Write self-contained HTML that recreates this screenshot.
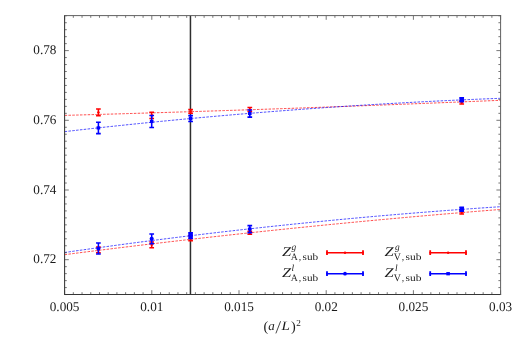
<!DOCTYPE html><html><head><meta charset="utf-8"><style>html,body{margin:0;padding:0;background:#fff}svg{display:block;will-change:transform;opacity:0.999}text{font-family:"Liberation Serif",serif;fill:#1a1a1a;text-rendering:geometricPrecision}</style></head><body>
<svg width="524" height="337" viewBox="0 0 524 337">
<rect width="524" height="337" fill="#fff"/>
<path d="M64.60,115.39 Q282.60,109.42 500.60,100.30" fill="none" stroke="#ff0000" stroke-width="1" stroke-dasharray="2.5 1.35" stroke-opacity="0.7"/>
<path d="M64.60,131.63 Q282.60,106.52 500.60,98.30" fill="none" stroke="#0000ff" stroke-width="1" stroke-dasharray="2.5 1.35" stroke-opacity="0.7"/>
<path d="M64.60,254.67 Q282.60,226.61 500.60,209.44" fill="none" stroke="#ff0000" stroke-width="1" stroke-dasharray="2.5 1.35" stroke-opacity="0.7"/>
<path d="M64.60,252.50 Q282.60,220.95 500.60,206.70" fill="none" stroke="#0000ff" stroke-width="1" stroke-dasharray="2.5 1.35" stroke-opacity="0.7"/>
<line x1="190.45" y1="15.6" x2="190.45" y2="294.4" stroke="#2e2e2e" stroke-width="1.5"/>
<path d="M64.60,294.4 v-4.2 M64.60,15.6 v4.2 M73.32,294.4 v-2.2 M73.32,15.6 v2.2 M82.04,294.4 v-2.2 M82.04,15.6 v2.2 M90.76,294.4 v-2.2 M90.76,15.6 v2.2 M99.48,294.4 v-2.2 M99.48,15.6 v2.2 M108.20,294.4 v-2.2 M108.20,15.6 v2.2 M116.92,294.4 v-2.2 M116.92,15.6 v2.2 M125.64,294.4 v-2.2 M125.64,15.6 v2.2 M134.36,294.4 v-2.2 M134.36,15.6 v2.2 M143.08,294.4 v-2.2 M143.08,15.6 v2.2 M151.80,294.4 v-4.2 M151.80,15.6 v4.2 M160.52,294.4 v-2.2 M160.52,15.6 v2.2 M169.24,294.4 v-2.2 M169.24,15.6 v2.2 M177.96,294.4 v-2.2 M177.96,15.6 v2.2 M186.68,294.4 v-2.2 M186.68,15.6 v2.2 M195.40,294.4 v-2.2 M195.40,15.6 v2.2 M204.12,294.4 v-2.2 M204.12,15.6 v2.2 M212.84,294.4 v-2.2 M212.84,15.6 v2.2 M221.56,294.4 v-2.2 M221.56,15.6 v2.2 M230.28,294.4 v-2.2 M230.28,15.6 v2.2 M239.00,294.4 v-4.2 M239.00,15.6 v4.2 M247.72,294.4 v-2.2 M247.72,15.6 v2.2 M256.44,294.4 v-2.2 M256.44,15.6 v2.2 M265.16,294.4 v-2.2 M265.16,15.6 v2.2 M273.88,294.4 v-2.2 M273.88,15.6 v2.2 M282.60,294.4 v-2.2 M282.60,15.6 v2.2 M291.32,294.4 v-2.2 M291.32,15.6 v2.2 M300.04,294.4 v-2.2 M300.04,15.6 v2.2 M308.76,294.4 v-2.2 M308.76,15.6 v2.2 M317.48,294.4 v-2.2 M317.48,15.6 v2.2 M326.20,294.4 v-4.2 M326.20,15.6 v4.2 M334.92,294.4 v-2.2 M334.92,15.6 v2.2 M343.64,294.4 v-2.2 M343.64,15.6 v2.2 M352.36,294.4 v-2.2 M352.36,15.6 v2.2 M361.08,294.4 v-2.2 M361.08,15.6 v2.2 M369.80,294.4 v-2.2 M369.80,15.6 v2.2 M378.52,294.4 v-2.2 M378.52,15.6 v2.2 M387.24,294.4 v-2.2 M387.24,15.6 v2.2 M395.96,294.4 v-2.2 M395.96,15.6 v2.2 M404.68,294.4 v-2.2 M404.68,15.6 v2.2 M413.40,294.4 v-4.2 M413.40,15.6 v4.2 M422.12,294.4 v-2.2 M422.12,15.6 v2.2 M430.84,294.4 v-2.2 M430.84,15.6 v2.2 M439.56,294.4 v-2.2 M439.56,15.6 v2.2 M448.28,294.4 v-2.2 M448.28,15.6 v2.2 M457.00,294.4 v-2.2 M457.00,15.6 v2.2 M465.72,294.4 v-2.2 M465.72,15.6 v2.2 M474.44,294.4 v-2.2 M474.44,15.6 v2.2 M483.16,294.4 v-2.2 M483.16,15.6 v2.2 M491.88,294.4 v-2.2 M491.88,15.6 v2.2 M500.60,294.4 v-4.2 M500.60,15.6 v4.2 M64.6,294.55 h2.2 M500.6,294.55 h-2.2 M64.6,287.58 h2.2 M500.6,287.58 h-2.2 M64.6,280.61 h2.2 M500.6,280.61 h-2.2 M64.6,273.64 h2.2 M500.6,273.64 h-2.2 M64.6,266.67 h2.2 M500.6,266.67 h-2.2 M64.6,259.70 h4.2 M500.6,259.70 h-4.2 M64.6,252.73 h2.2 M500.6,252.73 h-2.2 M64.6,245.76 h2.2 M500.6,245.76 h-2.2 M64.6,238.79 h2.2 M500.6,238.79 h-2.2 M64.6,231.82 h2.2 M500.6,231.82 h-2.2 M64.6,224.85 h2.2 M500.6,224.85 h-2.2 M64.6,217.88 h2.2 M500.6,217.88 h-2.2 M64.6,210.91 h2.2 M500.6,210.91 h-2.2 M64.6,203.94 h2.2 M500.6,203.94 h-2.2 M64.6,196.97 h2.2 M500.6,196.97 h-2.2 M64.6,190.00 h4.2 M500.6,190.00 h-4.2 M64.6,183.03 h2.2 M500.6,183.03 h-2.2 M64.6,176.06 h2.2 M500.6,176.06 h-2.2 M64.6,169.09 h2.2 M500.6,169.09 h-2.2 M64.6,162.12 h2.2 M500.6,162.12 h-2.2 M64.6,155.15 h2.2 M500.6,155.15 h-2.2 M64.6,148.18 h2.2 M500.6,148.18 h-2.2 M64.6,141.21 h2.2 M500.6,141.21 h-2.2 M64.6,134.24 h2.2 M500.6,134.24 h-2.2 M64.6,127.27 h2.2 M500.6,127.27 h-2.2 M64.6,120.30 h4.2 M500.6,120.30 h-4.2 M64.6,113.33 h2.2 M500.6,113.33 h-2.2 M64.6,106.36 h2.2 M500.6,106.36 h-2.2 M64.6,99.39 h2.2 M500.6,99.39 h-2.2 M64.6,92.42 h2.2 M500.6,92.42 h-2.2 M64.6,85.45 h2.2 M500.6,85.45 h-2.2 M64.6,78.48 h2.2 M500.6,78.48 h-2.2 M64.6,71.51 h2.2 M500.6,71.51 h-2.2 M64.6,64.54 h2.2 M500.6,64.54 h-2.2 M64.6,57.57 h2.2 M500.6,57.57 h-2.2 M64.6,50.60 h4.2 M500.6,50.60 h-4.2 M64.6,43.63 h2.2 M500.6,43.63 h-2.2 M64.6,36.66 h2.2 M500.6,36.66 h-2.2 M64.6,29.69 h2.2 M500.6,29.69 h-2.2 M64.6,22.72 h2.2 M500.6,22.72 h-2.2 M64.6,15.75 h2.2 M500.6,15.75 h-2.2" stroke="#3c3c3c" stroke-width="0.7" fill="none"/>
<path d="M64.6,15.1 V294.9 M64.1,294.4 H501.1" fill="none" stroke="#363636" stroke-width="1.05"/>
<path d="M64.1,15.6 H501.1 M500.6,15.1 V294.9" fill="none" stroke="#606060" stroke-width="1.0"/>
<path d="M96.05,108.90 h4.7 M96.05,115.80 h4.7 M98.40,108.90 V115.80" stroke="#ff0000" stroke-width="1.55" fill="none"/><circle cx="98.40" cy="112.35" r="1.2" fill="#ff0000"/>
<path d="M149.35,112.20 h4.7 M149.35,118.40 h4.7 M151.70,112.20 V118.40" stroke="#ff0000" stroke-width="1.55" fill="none"/><circle cx="151.70" cy="115.30" r="1.2" fill="#ff0000"/>
<path d="M188.25,109.60 h4.7 M188.25,113.30 h4.7 M190.60,109.60 V113.30" stroke="#ff0000" stroke-width="1.55" fill="none"/><circle cx="190.60" cy="111.45" r="1.2" fill="#ff0000"/>
<path d="M247.45,107.50 h4.7 M247.45,111.40 h4.7 M249.80,107.50 V111.40" stroke="#ff0000" stroke-width="1.55" fill="none"/><circle cx="249.80" cy="109.45" r="1.2" fill="#ff0000"/>
<path d="M459.35,100.80 h4.7 M459.35,103.90 h4.7 M461.70,100.80 V103.90" stroke="#ff0000" stroke-width="1.55" fill="none"/><circle cx="461.70" cy="102.35" r="1.2" fill="#ff0000"/>
<path d="M96.05,246.90 h4.7 M96.05,252.80 h4.7 M98.40,246.90 V252.80" stroke="#ff0000" stroke-width="1.55" fill="none"/><circle cx="98.40" cy="249.85" r="1.2" fill="#ff0000"/>
<path d="M149.35,241.90 h4.7 M149.35,247.80 h4.7 M151.70,241.90 V247.80" stroke="#ff0000" stroke-width="1.55" fill="none"/><circle cx="151.70" cy="244.85" r="1.2" fill="#ff0000"/>
<path d="M188.25,235.60 h4.7 M188.25,240.80 h4.7 M190.60,235.60 V240.80" stroke="#ff0000" stroke-width="1.55" fill="none"/><circle cx="190.60" cy="238.20" r="1.2" fill="#ff0000"/>
<path d="M247.45,231.30 h4.7 M247.45,234.20 h4.7 M249.80,231.30 V234.20" stroke="#ff0000" stroke-width="1.55" fill="none"/><circle cx="249.80" cy="232.75" r="1.2" fill="#ff0000"/>
<path d="M459.35,211.00 h4.7 M459.35,214.00 h4.7 M461.70,211.00 V214.00" stroke="#ff0000" stroke-width="1.55" fill="none"/><circle cx="461.70" cy="212.50" r="1.2" fill="#ff0000"/>
<path d="M96.05,122.20 h4.7 M96.05,133.60 h4.7 M98.40,122.20 V133.60" stroke="#0000ff" stroke-width="1.55" fill="none"/><rect x="96.60" y="126.30" width="3.6" height="3.2" fill="#0000ff"/>
<path d="M149.35,115.40 h4.7 M149.35,127.50 h4.7 M151.70,115.40 V127.50" stroke="#0000ff" stroke-width="1.55" fill="none"/><rect x="149.90" y="119.85" width="3.6" height="3.2" fill="#0000ff"/>
<path d="M188.25,115.60 h4.7 M188.25,121.50 h4.7 M190.60,115.60 V121.50" stroke="#0000ff" stroke-width="1.55" fill="none"/><rect x="188.80" y="116.95" width="3.6" height="3.2" fill="#0000ff"/>
<path d="M247.45,109.90 h4.7 M247.45,117.10 h4.7 M249.80,109.90 V117.10" stroke="#0000ff" stroke-width="1.55" fill="none"/><rect x="248.00" y="111.90" width="3.6" height="3.2" fill="#0000ff"/>
<path d="M459.35,97.70 h4.7 M459.35,101.70 h4.7 M461.70,97.70 V101.70" stroke="#0000ff" stroke-width="1.55" fill="none"/><rect x="459.90" y="98.10" width="3.6" height="3.2" fill="#0000ff"/>
<path d="M96.05,243.00 h4.7 M96.05,254.00 h4.7 M98.40,243.00 V254.00" stroke="#0000ff" stroke-width="1.55" fill="none"/><circle cx="98.40" cy="248.50" r="2.1" fill="#0000ff"/>
<path d="M149.35,234.00 h4.7 M149.35,243.70 h4.7 M151.70,234.00 V243.70" stroke="#0000ff" stroke-width="1.55" fill="none"/><circle cx="151.70" cy="238.85" r="2.1" fill="#0000ff"/>
<path d="M188.25,232.80 h4.7 M188.25,238.40 h4.7 M190.60,232.80 V238.40" stroke="#0000ff" stroke-width="1.55" fill="none"/><circle cx="190.60" cy="235.60" r="2.1" fill="#0000ff"/>
<path d="M247.45,225.60 h4.7 M247.45,232.60 h4.7 M249.80,225.60 V232.60" stroke="#0000ff" stroke-width="1.55" fill="none"/><circle cx="249.80" cy="229.10" r="2.1" fill="#0000ff"/>
<path d="M459.35,207.30 h4.7 M459.35,211.20 h4.7 M461.70,207.30 V211.20" stroke="#0000ff" stroke-width="1.55" fill="none"/><circle cx="461.70" cy="209.25" r="2.1" fill="#0000ff"/>
<rect x="188.40" y="232.80" width="4.4" height="5.60" fill="#0000ff"/>
<rect x="459.50" y="207.30" width="4.4" height="3.90" fill="#0000ff"/>
<rect x="459.50" y="97.70" width="4.4" height="4.00" fill="#0000ff"/>
<path d="M326.2,252.7 H363.8" stroke="#ff0000" stroke-width="1.6" fill="none"/><path d="M327.0,250.29999999999998 v4.8 M363.0,250.29999999999998 v4.8" stroke="#ff0000" stroke-width="1.8" fill="none"/><circle cx="345.0" cy="252.7" r="1.2" fill="#ff0000"/>
<path d="M326.2,273.7 H363.8" stroke="#0000ff" stroke-width="1.6" fill="none"/><path d="M327.0,271.3 v4.8 M363.0,271.3 v4.8" stroke="#0000ff" stroke-width="1.8" fill="none"/><circle cx="345.0" cy="273.7" r="1.85" fill="#0000ff"/>
<path d="M429.4,252.7 H466.8" stroke="#ff0000" stroke-width="1.6" fill="none"/><path d="M430.2,250.29999999999998 v4.8 M466.0,250.29999999999998 v4.8" stroke="#ff0000" stroke-width="1.8" fill="none"/><circle cx="448.1" cy="252.7" r="1.2" fill="#ff0000"/>
<path d="M429.4,273.7 H466.8" stroke="#0000ff" stroke-width="1.6" fill="none"/><path d="M430.2,271.3 v4.8 M466.0,271.3 v4.8" stroke="#0000ff" stroke-width="1.8" fill="none"/><rect x="446.30" y="272.05" width="3.6" height="3.3" fill="#0000ff"/>
<text x="282" y="255.55" font-size="13.4" font-style="italic" textLength="9.1" lengthAdjust="spacingAndGlyphs">Z</text><text x="291.4" y="250.25" font-size="9.4" font-style="italic">g</text><text x="290.7" y="259.6" font-size="9.8">A</text><text x="298.8" y="259.6" font-size="9.8">,</text><text x="302.6" y="259.6" font-size="9.8" textLength="15.6" lengthAdjust="spacingAndGlyphs">sub</text>
<text x="282" y="276.55" font-size="13.4" font-style="italic" textLength="9.1" lengthAdjust="spacingAndGlyphs">Z</text><text x="291.4" y="271.25" font-size="9.4" font-style="italic">l</text><text x="290.7" y="280.6" font-size="9.8">A</text><text x="298.8" y="280.6" font-size="9.8">,</text><text x="302.6" y="280.6" font-size="9.8" textLength="15.6" lengthAdjust="spacingAndGlyphs">sub</text>
<text x="384.6" y="255.55" font-size="13.4" font-style="italic" textLength="9.1" lengthAdjust="spacingAndGlyphs">Z</text><text x="394.90000000000003" y="250.25" font-size="9.4" font-style="italic">g</text><text x="393.70000000000005" y="259.6" font-size="9.8">V</text><text x="401.70000000000005" y="259.6" font-size="9.8">,</text><text x="405.6" y="259.6" font-size="9.8" textLength="15.9" lengthAdjust="spacingAndGlyphs">sub</text>
<text x="384.6" y="276.55" font-size="13.4" font-style="italic" textLength="9.1" lengthAdjust="spacingAndGlyphs">Z</text><text x="394.90000000000003" y="271.25" font-size="9.4" font-style="italic">l</text><text x="393.70000000000005" y="280.6" font-size="9.8">V</text><text x="401.70000000000005" y="280.6" font-size="9.8">,</text><text x="405.6" y="280.6" font-size="9.8" textLength="15.9" lengthAdjust="spacingAndGlyphs">sub</text>
<text x="64.60" y="311.3" font-size="13.2" text-anchor="middle">0.005</text>
<text x="151.80" y="311.3" font-size="13.2" text-anchor="middle">0.01</text>
<text x="239.00" y="311.3" font-size="13.2" text-anchor="middle">0.015</text>
<text x="326.20" y="311.3" font-size="13.2" text-anchor="middle">0.02</text>
<text x="413.40" y="311.3" font-size="13.2" text-anchor="middle">0.025</text>
<text x="500.60" y="311.3" font-size="13.2" text-anchor="middle">0.03</text>
<text x="56.4" y="263.30" font-size="13.2" text-anchor="end">0.72</text>
<text x="56.4" y="193.60" font-size="13.2" text-anchor="end">0.74</text>
<text x="56.4" y="123.90" font-size="13.2" text-anchor="end">0.76</text>
<text x="56.4" y="54.20" font-size="13.2" text-anchor="end">0.78</text>
<text x="263.6" y="330.8" font-size="14.2">(</text><text x="291.0" y="330.8" font-size="14.2">)</text>
<text x="268.3" y="330.2" font-size="13.0" font-style="italic">a</text><text x="281.6" y="330.2" font-size="12.8" font-style="italic" textLength="8.4" lengthAdjust="spacingAndGlyphs">L</text>
<path d="M275.9,333.4 L280.6,321.2" stroke="#1a1a1a" stroke-width="0.8" fill="none"/>
<text x="296.3" y="326.2" font-size="9.2">2</text>
</svg></body></html>
